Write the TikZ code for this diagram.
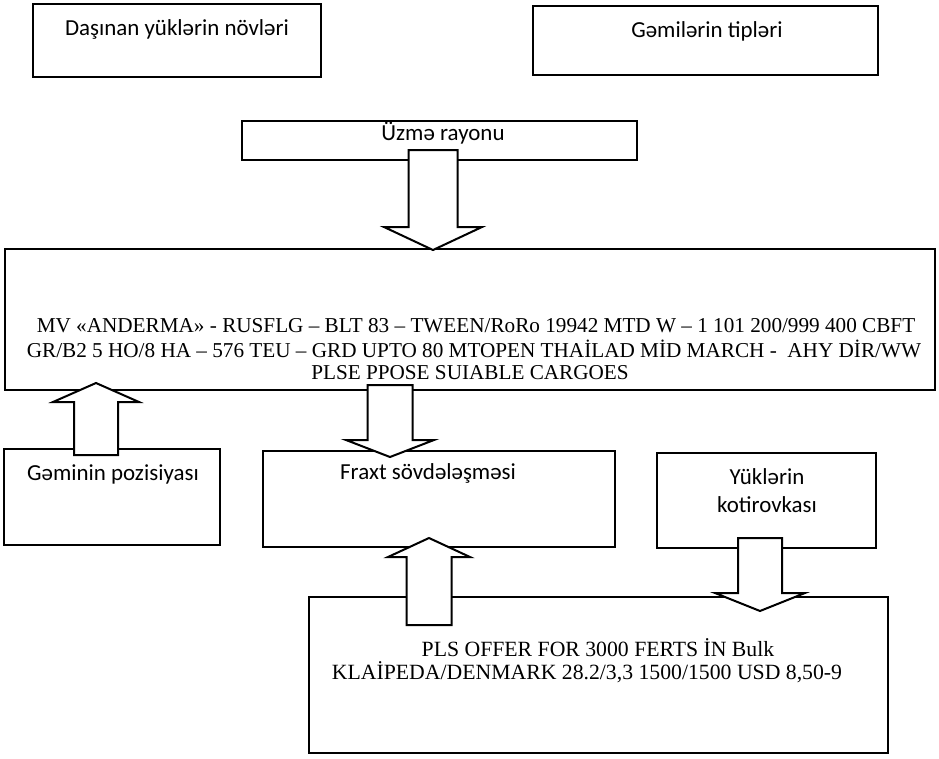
\documentclass[tikz,border=0pt]{standalone}
\usepackage{fontspec}
\setmainfont{Liberation Serif}
\newfontfamily\labelfont{Carlito}
\usetikzlibrary{fit}
% block arrow: centre x, tail y, shoulder y, tip y, half shaft, half head
\newcommand{\blockarrow}[6]{%
  \draw[blk] (#1-#5,#2) -- (#1-#5,#3) -- (#1-#6,#3) -- (#1,#4)
    -- (#1+#6,#3) -- (#1+#5,#3) -- (#1+#5,#2) -- cycle;}
\begin{document}
\begin{tikzpicture}[x=0.75pt,y=-0.75pt,
  box/.style={draw,line width=1.5pt,inner sep=0,outer sep=0},
  lbl/.style={font=\labelfont\fontsize{17.2}{19}\selectfont,inner sep=0,align=center},
  msg/.style={font=\fontsize{15.9}{17}\selectfont,inner sep=0},
  ord/.style={font=\fontsize{16.3}{17}\selectfont,inner sep=0},
  blk/.style={draw,fill=white,line width=1.5pt,line join=miter}]
\useasboundingbox (0,0) rectangle (939,758);

% boxes
\node[box,fit={(33,4)(321,77)}]    (cargo)  {};
\node[box,fit={(533,6)(878,75)}]   (ships)  {};
\node[box,fit={(242,121)(637,160)}] (area)  {};
\node[box,fit={(5,249)(935,390)}]  (offer)  {};
\node[box,fit={(4,449)(220,545)}]  (pos)    {};
\node[box,fit={(263,451)(615,547)}] (deal)  {};
\node[box,fit={(657,453)(876,548)}] (quote) {};
\node[box,fit={(309,597)(888,753)}] (order) {};

% block arrows between the boxes
\blockarrow{433}{150}{227}{250}{24.5}{49}
\blockarrow{96}{455}{402}{383}{22}{43}
\blockarrow{390}{385}{440}{457}{22.5}{44}
\blockarrow{429}{625}{557}{538}{22.5}{41}
\blockarrow{760}{538}{593}{611}{22}{45}

% labels
\node[lbl] (tcargo) at (177,29)  {Daşınan yüklərin növləri};
\node[lbl] (tships) at (707,31)  {Gəmilərin tipləri};
\node[lbl] (tarea)  at (443,133) {Üzmə rayonu};
\node[lbl] (tpos)   at (113,474) {Gəminin pozisiyası};
\node[lbl] (tdeal)  at (428,473) {Fraxt sövdələşməsi};
\node[lbl] (tquote) at (767,491) {Yüklərin\\[2pt]kotirovkası};

\node[msg] (m1) at (476,326) {MV «ANDERMA» - RUSFLG – BLT 83 – TWEEN/RoRo 19942 MTD W – 1 101 200/999 400 CBFT};
\node[msg] (m2) at (474,349) {GR/B2 5 HO/8 HA – 576 TEU – GRD UPTO 80 MTOPEN THAİLAD MİD MARCH -\ \ AHY DİR/WW};
\node[msg] (m3) at (470,373) {PLSE PPOSE SUIABLE CARGOES};

\node[ord] (o1) at (598,648) {PLS OFFER FOR 3000 FERTS İN Bulk};
\node[ord] (o2) at (587,672) {KLAİPEDA/DENMARK 28.2/3,3 1500/1500 USD 8,50-9};
\end{tikzpicture}
\end{document}
